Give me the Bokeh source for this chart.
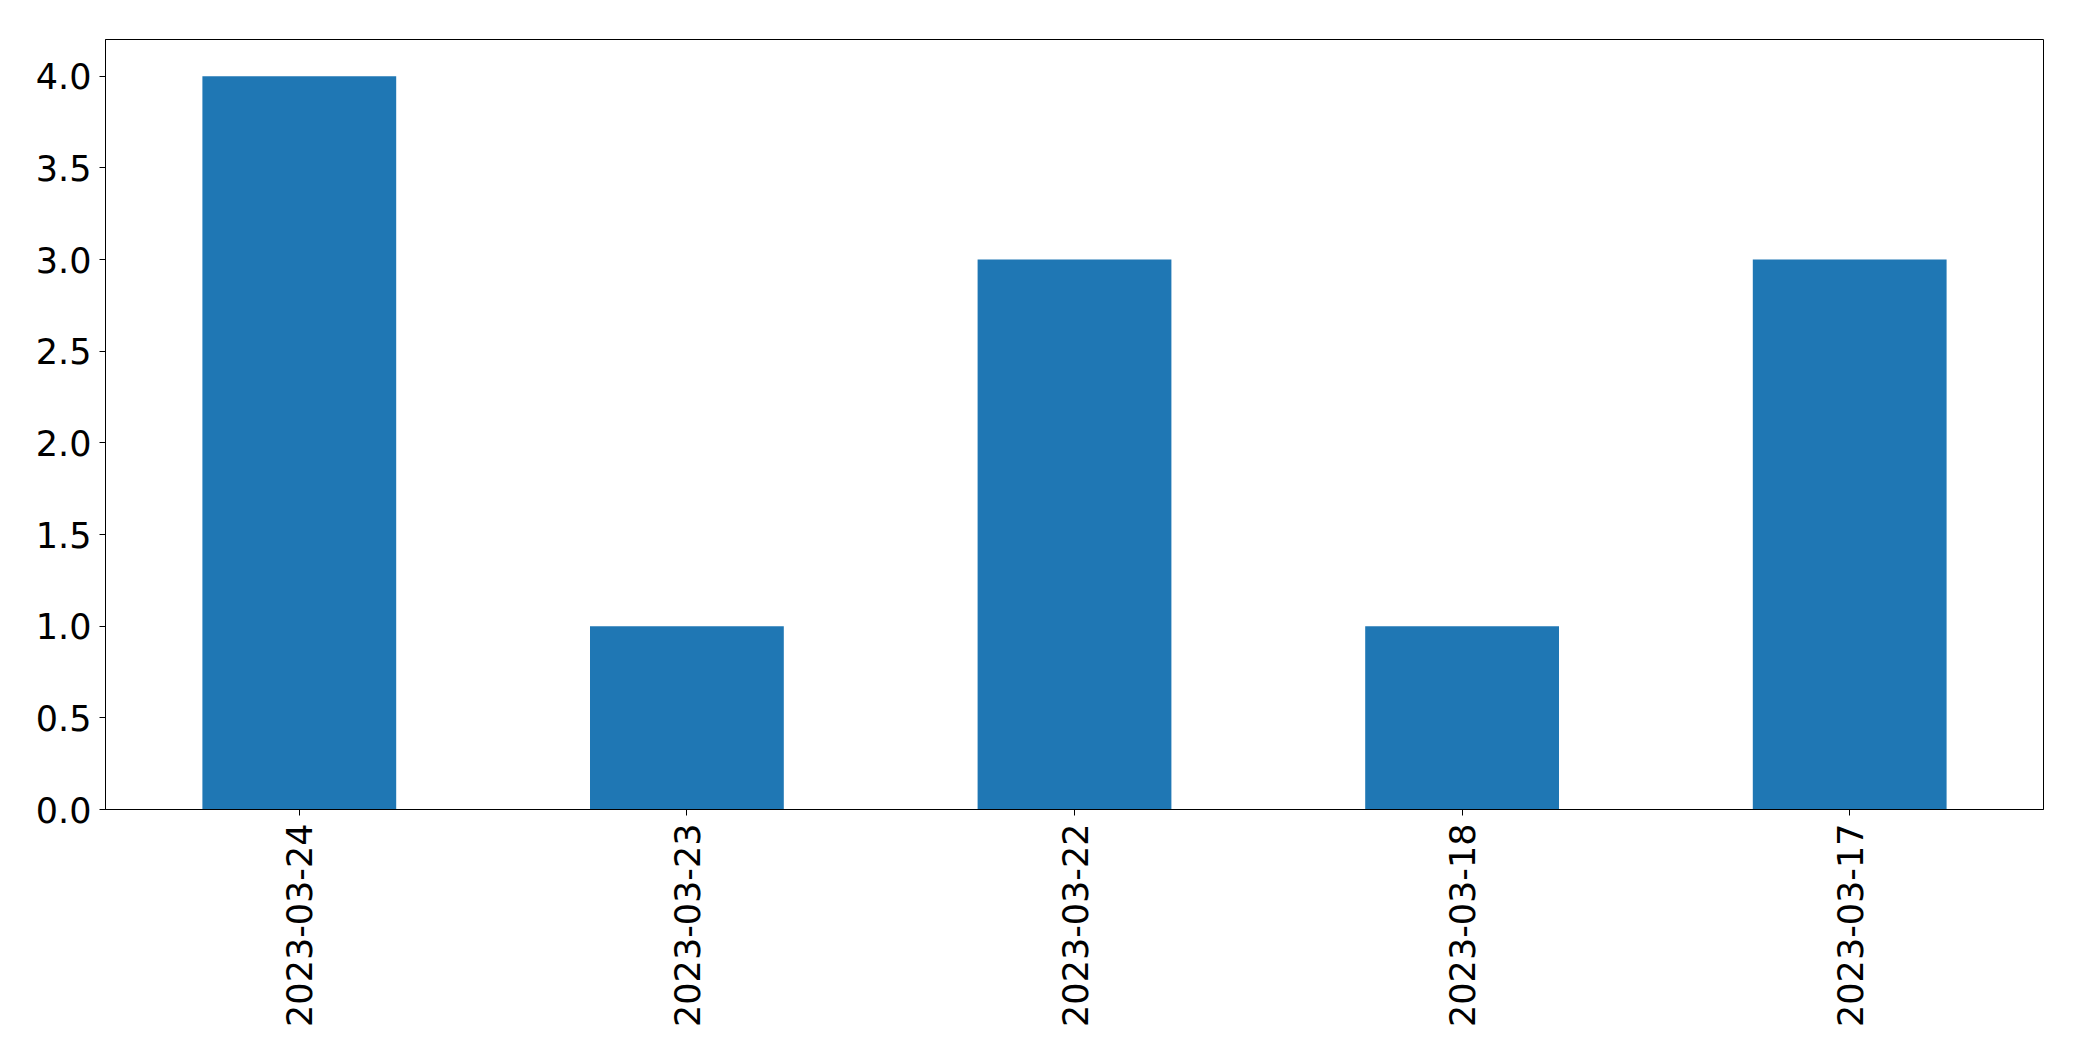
import math
from bokeh.plotting import figure
from bokeh.models import FixedTicker, PrintfTickFormatter, FactorRange, Range1d, ColumnDataSource
from bokeh.embed import file_html
from bokeh.resources import INLINE

dates = ["2023-03-24", "2023-03-23", "2023-03-22", "2023-03-18", "2023-03-17"]
counts = [4, 1, 3, 1, 3]
y_ticks = [0.0, 0.5, 1.0, 1.5, 2.0, 2.5, 3.0, 3.5, 4.0]

src = ColumnDataSource(dict(date=dates, count=counts))

p = figure(
    x_range=FactorRange(*dates, range_padding=0),
    y_range=Range1d(0, 4.2),
    width=2060, height=1045,
    output_backend="svg", toolbar_location=None,
    min_border_left=105, min_border_right=17, min_border_top=39, min_border_bottom=236,
)
p.vbar(x="date", top="count", width=0.5, source=src, color="#1f77b4", line_color=None)

p.xgrid.visible = False
p.ygrid.visible = False
p.outline_line_color = "black"
p.outline_line_width = 1
p.outline_line_alpha = 1

for ax in (p.xaxis[0], p.yaxis[0]):
    ax.major_label_text_font = "DejaVu Sans"
    ax.major_label_text_font_size = "35px"
    ax.major_label_text_color = "black"
    ax.major_tick_out = 6
    ax.major_tick_in = 0
    ax.minor_tick_out = 0
    ax.minor_tick_in = 0
    ax.major_tick_line_color = "black"
    ax.axis_line_color = "black"
    ax.major_label_standoff = 8

p.yaxis[0].ticker = FixedTicker(ticks=y_ticks)
p.yaxis[0].formatter = PrintfTickFormatter(format="%.1f")
p.xaxis[0].major_label_orientation = math.pi / 2

open("out.html", "w").write(file_html(p, INLINE))
